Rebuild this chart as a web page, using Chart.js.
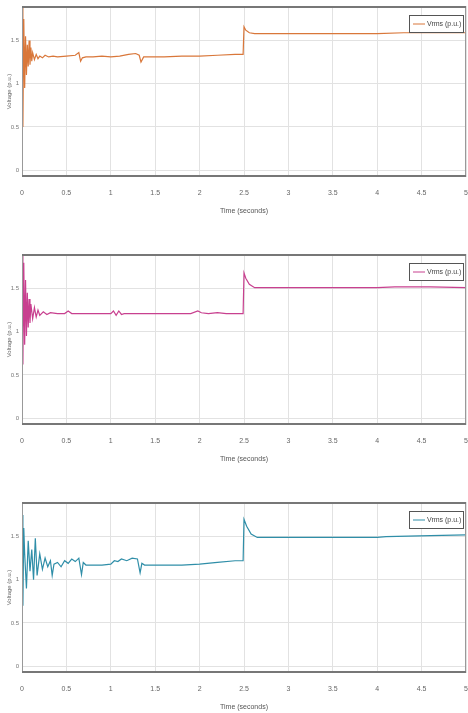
<!DOCTYPE html>
<html>
<head>
<meta charset="utf-8">
<script src="https://cdn.jsdelivr.net/npm/chart.js@4.4.1/dist/chart.umd.min.js"></script>
<style>
  body { margin: 0; background: #fff; }
  .box { position: absolute; left: 0; width: 468px; height: 217px; }
</style>
</head>
<body>
<div class="box" style="top:0"><canvas id="chart1"></canvas></div>
<div class="box" style="top:248px"><canvas id="chart2"></canvas></div>
<div class="box" style="top:496px"><canvas id="chart3"></canvas></div>
<script>
// tick labels
const xTicks = [0, 0.5, 1, 1.5, 2, 2.5, 3, 3.5, 4, 4.5, 5];
const yTicks = [0, 0.5, 1, 1.5];

// phase 1 (orange)
const time1 = [0, 0.01, 0.02, 0.03, 0.04, 0.05, 0.06, 0.07, 0.08, 0.09, 0.1, 0.11, 0.12, 0.14, 0.16, 0.18, 0.2, 0.23, 0.26, 0.3, 0.35, 0.4, 0.5, 0.6, 0.64, 0.66, 0.68, 0.72, 0.8, 0.9, 1.0, 1.1, 1.2, 1.28, 1.32, 1.34, 1.37, 1.45, 1.6, 1.8, 2.0, 2.2, 2.4, 2.49, 2.5, 2.52, 2.56, 2.62, 2.7, 3.0, 3.5, 4.0, 4.3, 4.6, 5.0];
const volt1 = [1.9, 0.5, 1.75, 0.95, 1.55, 1.1, 1.45, 1.2, 1.5, 1.22, 1.42, 1.26, 1.36, 1.28, 1.34, 1.29, 1.32, 1.3, 1.33, 1.31, 1.32, 1.31, 1.32, 1.33, 1.36, 1.26, 1.3, 1.31, 1.31, 1.32, 1.31, 1.32, 1.34, 1.35, 1.33, 1.25, 1.31, 1.31, 1.31, 1.32, 1.32, 1.33, 1.34, 1.34, 1.66, 1.62, 1.59, 1.58, 1.58, 1.58, 1.58, 1.58, 1.59, 1.59, 1.59];

// phase 2 (magenta)
const time2 = [0, 0.01, 0.02, 0.03, 0.04, 0.05, 0.06, 0.07, 0.08, 0.09, 0.1, 0.12, 0.14, 0.16, 0.18, 0.2, 0.24, 0.28, 0.32, 0.4, 0.48, 0.52, 0.56, 0.7, 0.9, 1.0, 1.03, 1.06, 1.09, 1.12, 1.15, 1.3, 1.6, 1.9, 1.98, 2.02, 2.1, 2.2, 2.3, 2.49, 2.5, 2.52, 2.56, 2.62, 2.8, 3.5, 4.0, 4.2, 4.6, 5.0];
const volt2 = [1.9, 0.62, 1.8, 0.85, 1.6, 0.95, 1.45, 1.05, 1.38, 1.1, 1.32, 1.15, 1.28, 1.17, 1.25, 1.19, 1.23, 1.2, 1.22, 1.21, 1.21, 1.24, 1.21, 1.21, 1.21, 1.21, 1.24, 1.19, 1.24, 1.2, 1.21, 1.21, 1.21, 1.21, 1.24, 1.22, 1.21, 1.22, 1.21, 1.21, 1.68, 1.62, 1.55, 1.51, 1.51, 1.51, 1.51, 1.52, 1.52, 1.51];

// phase 3 (teal)
const time3 = [0, 0.01, 0.02, 0.03, 0.05, 0.07, 0.09, 0.11, 0.13, 0.15, 0.17, 0.2, 0.23, 0.26, 0.29, 0.32, 0.34, 0.36, 0.4, 0.44, 0.48, 0.52, 0.56, 0.6, 0.64, 0.67, 0.69, 0.72, 0.8, 0.9, 1.0, 1.04, 1.08, 1.12, 1.18, 1.24, 1.3, 1.33, 1.35, 1.38, 1.45, 1.6, 1.8, 2.0, 2.2, 2.4, 2.49, 2.5, 2.53, 2.58, 2.65, 2.8, 3.5, 4.0, 4.1, 4.6, 5.0];
const volt3 = [1.75, 0.7, 1.6, 1.3, 0.9, 1.45, 1.1, 1.35, 1.0, 1.48, 1.05, 1.3, 1.12, 1.25, 1.15, 1.22, 1.05, 1.18, 1.2, 1.15, 1.22, 1.19, 1.24, 1.21, 1.25, 1.06, 1.2, 1.17, 1.17, 1.17, 1.18, 1.22, 1.21, 1.24, 1.22, 1.25, 1.24, 1.08, 1.19, 1.17, 1.17, 1.17, 1.17, 1.18, 1.2, 1.22, 1.22, 1.7, 1.62, 1.53, 1.49, 1.49, 1.49, 1.49, 1.5, 1.51, 1.52];

// box round the axes and a small legend inside, like the matlab figure
const framePlugin = {
    id: 'frame',
    afterDraw(chart) {
        const { ctx, chartArea: a } = chart;
        ctx.save();
        ctx.strokeStyle = '#999';
        ctx.lineWidth = 1;
        ctx.beginPath();
        ctx.moveTo(a.left + 0.5, a.top);
        ctx.lineTo(a.left + 0.5, a.bottom);
        ctx.moveTo(a.right - 0.5, a.top);
        ctx.lineTo(a.right - 0.5, a.bottom);
        ctx.stroke();
        ctx.strokeStyle = '#777';
        ctx.lineWidth = 2;
        ctx.beginPath();
        ctx.moveTo(a.left, a.top + 1);
        ctx.lineTo(a.right, a.top + 1);
        ctx.moveTo(a.left, a.bottom - 1);
        ctx.lineTo(a.right, a.bottom - 1);
        ctx.stroke();

        // legend
        const ds = chart.data.datasets[0];
        const x = a.right - 57, y = a.top + 9;
        ctx.fillStyle = '#fff';
        ctx.fillRect(x, y, 54, 17);
        ctx.strokeStyle = '#555';
        ctx.lineWidth = 1;
        ctx.strokeRect(x + 0.5, y + 0.5, 54, 17);
        ctx.strokeStyle = ds.borderColor;
        ctx.beginPath();
        ctx.moveTo(x + 4, y + 9);
        ctx.lineTo(x + 16, y + 9);
        ctx.stroke();
        ctx.fillStyle = '#444';
        ctx.font = '7px "Liberation Sans"';
        ctx.textBaseline = 'middle';
        ctx.fillText(ds.label, x + 18, y + 9);
        ctx.restore();
    }
};

function makeChart(id, times, volts, color, label) {
    const ctx = document.getElementById(id).getContext('2d');
    return new Chart(ctx, {
        type: 'line',
        data: {
            datasets: [{
                label: label,
                data: times.map((t, i) => ({ x: t, y: volts[i] })),
                borderColor: color,
                borderWidth: 1.2,
                pointRadius: 0,
                tension: 0
            }]
        },
        options: {
            responsive: true,
            maintainAspectRatio: false,
            animation: false,
            layout: { padding: { top: 6, right: 2, left: 0, bottom: 0 } },
            plugins: { legend: { display: false }, tooltip: { enabled: false } },
            scales: {
                x: {
                    type: 'linear',
                    min: 0,
                    max: 5,
                    afterBuildTicks: s => { s.ticks = xTicks.map(v => ({ value: v })); },
                    afterFit: s => { s.height = 40; s.paddingLeft = 0; s.paddingRight = 0; },
                    grid: { color: '#e2e2e2', drawTicks: false },
                    border: { display: false },
                    ticks: { padding: 12, color: '#666', font: { size: 7, family: 'Liberation Sans' }, maxRotation: 0, callback: v => String(v) },
                    title: { display: true, text: 'Time (seconds)', color: '#555', padding: { top: 0, bottom: 2 }, font: { size: 7, family: 'Liberation Sans' } }
                },
                y: {
                    min: -0.08,
                    max: 1.9,
                    afterBuildTicks: s => { s.ticks = yTicks.map(v => ({ value: v })); },
                    afterFit: s => { s.width = 22; s.paddingTop = 0; s.paddingBottom = 0; },
                    grid: { color: '#e2e2e2', drawTicks: false },
                    border: { display: false },
                    ticks: { padding: 3, color: '#777', font: { size: 6, family: 'Liberation Sans' }, callback: v => String(v) },
                    title: { display: true, text: 'Voltage (p.u.)', color: '#666', padding: { top: 6, bottom: 0 }, font: { size: 6, family: 'Liberation Sans' } }
                }
            }
        },
        plugins: [framePlugin]
    });
}

makeChart('chart1', time1, volt1, '#d9773a', 'Vrms (p.u.)');
makeChart('chart2', time2, volt2, '#c8408f', 'Vrms (p.u.)');
makeChart('chart3', time3, volt3, '#2f8ea8', 'Vrms (p.u.)');
</script>
</body>
</html>
